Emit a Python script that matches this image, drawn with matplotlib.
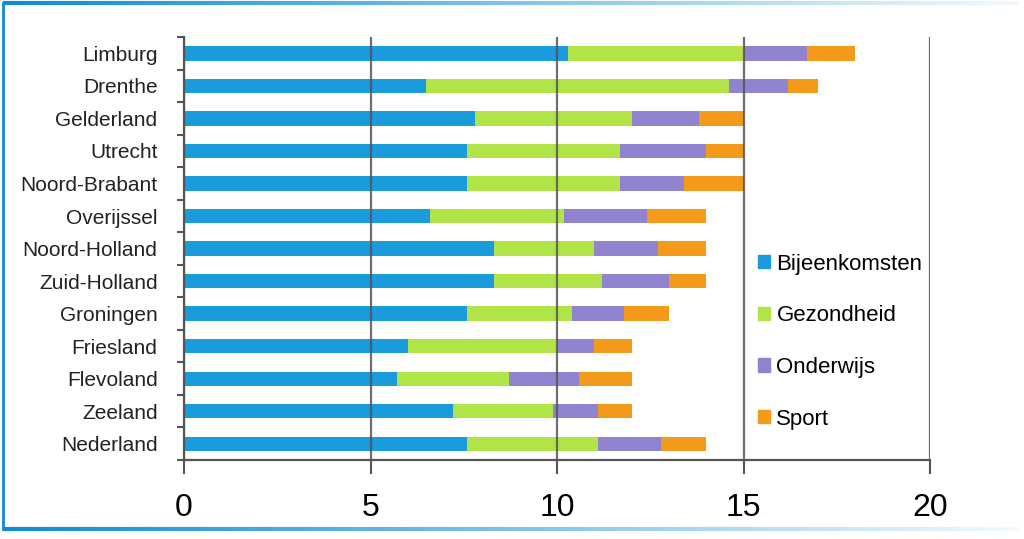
import matplotlib.pyplot as plt
import numpy as np
from matplotlib.collections import LineCollection
from matplotlib.patches import Patch

provinces = ['Limburg', 'Drenthe', 'Gelderland', 'Utrecht', 'Noord-Brabant', 'Overijssel',
             'Noord-Holland', 'Zuid-Holland', 'Groningen', 'Friesland', 'Flevoland',
             'Zeeland', 'Nederland']
bijeenkomsten = [10.3, 6.5, 7.8, 7.6, 7.6, 6.6, 8.3, 8.3, 7.6, 6.0, 5.7, 7.2, 7.6]
gezondheid = [4.7, 8.1, 4.2, 4.1, 4.1, 3.6, 2.7, 2.9, 2.8, 4.0, 3.0, 2.7, 3.5]
onderwijs = [1.7, 1.6, 1.8, 2.3, 1.7, 2.2, 1.7, 1.8, 1.4, 1.0, 1.9, 1.2, 1.7]
sport = [1.3, 0.8, 1.2, 1.0, 1.6, 1.6, 1.3, 1.0, 1.2, 1.0, 1.4, 0.9, 1.2]

series = ['Bijeenkomsten', 'Gezondheid', 'Onderwijs', 'Sport']
colors = ['#1A9CDC', '#B0E447', '#9283D0', '#F49A1A']
xticks = [0, 5, 10, 15, 20]

plt.rcParams['font.family'] = ['Liberation Sans Narrow', 'Liberation Sans', 'DejaVu Sans']

fig = plt.figure(figsize=(10.24, 5.39), dpi=100)
ax = fig.add_axes([0.1797, 0.1466, 0.7285, 0.7845])

y = np.arange(len(provinces))
left = np.zeros(len(provinces))
for vals, c in zip([bijeenkomsten, gezondheid, onderwijs, sport], colors):
    ax.barh(y, vals, left=left, height=0.44, color=c, zorder=2)
    left += np.array(vals)

ax.set_ylim(len(provinces) - 0.5, -0.5)
ax.set_xlim(0, 20)
ax.set_yticks(y)
ax.set_yticklabels(provinces, fontsize=15, color='#222222')
ax.set_yticks(np.arange(-0.5, len(provinces)), minor=True)
ax.tick_params(axis='y', which='major', length=0, pad=19)
ax.tick_params(axis='y', which='minor', length=5, width=1.5, color='#555555')
ax.set_xticks(xticks)
ax.set_xticklabels([str(t) for t in xticks], fontsize=23)
ax.tick_params(axis='x', length=10, width=1.5, color='#555555', pad=14)

ax.grid(axis='x', color='#555555', linewidth=1.6, alpha=0.85, zorder=3)
ax.set_axisbelow(False)
for s in ['top', 'right']:
    ax.spines[s].set_visible(False)
for s in ['left', 'bottom']:
    ax.spines[s].set_color('#555555')
    ax.spines[s].set_linewidth(1.6)

handles = [Patch(color=c, label=s) for s, c in zip(series, colors)]
ax.legend(handles=handles, loc='center left', bbox_to_anchor=(0.742, 0.28), frameon=False,
          fontsize=16, labelspacing=1.38, handlelength=0.55, handleheight=0.55,
          handletextpad=0.3)

# blue frame around the picture, fading to the right
xs = np.linspace(0.003, 0.995, 200)
segs = [[(xs[i], 0), (xs[i + 1], 0)] for i in range(len(xs) - 1)]
fade = np.linspace(1, 0.05, len(segs))
cols = [(0.05, 0.55, 0.82, a) for a in fade]
for yy in [0.994, 0.018]:
    lc = LineCollection([[(a[0], yy), (b[0], yy)] for a, b in segs], colors=cols,
                        linewidths=3, transform=fig.transFigure)
    fig.add_artist(lc)
fig.add_artist(plt.Line2D([0.003, 0.003], [0.018, 0.994], color='#0D8CD1', linewidth=2,
                          transform=fig.transFigure))

fig.savefig('out.png', dpi=100)
